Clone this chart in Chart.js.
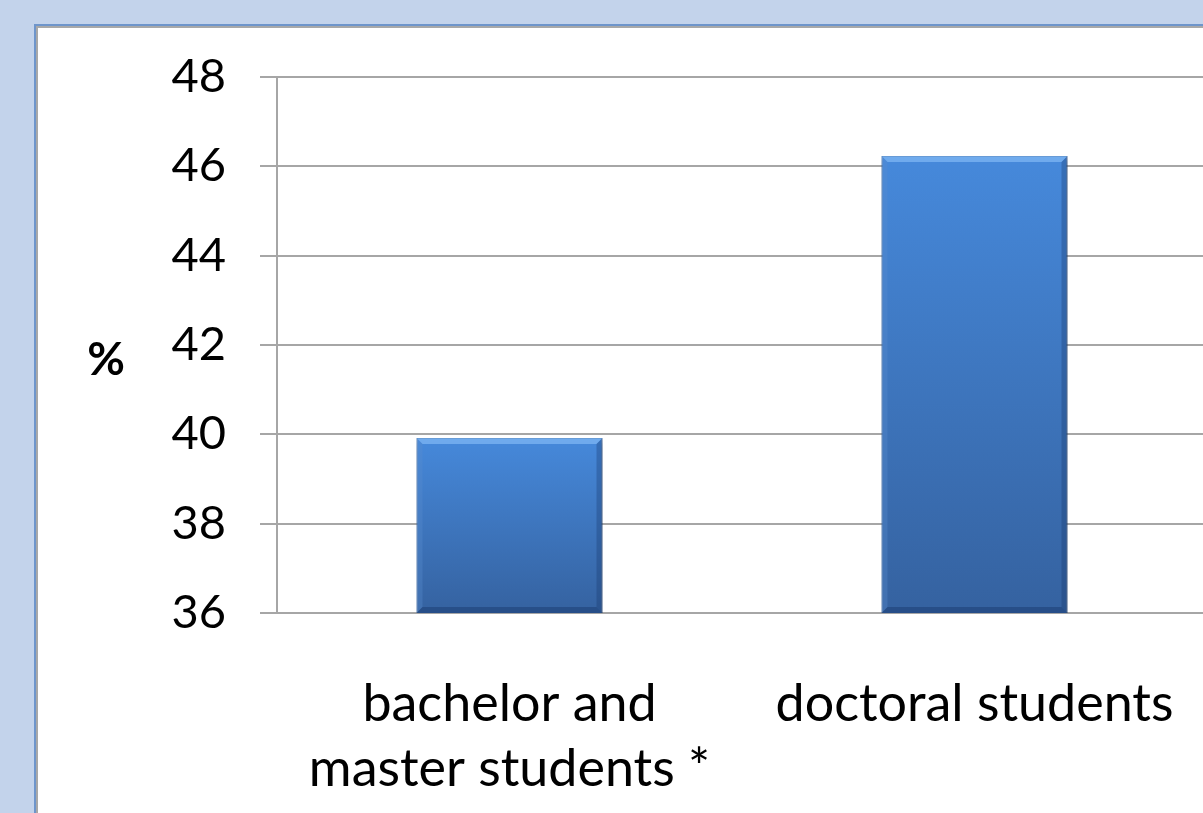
<!DOCTYPE html>
<html>
<head>
<meta charset="utf-8">
<script src="https://cdn.jsdelivr.net/npm/chart.js@4.4.0/dist/chart.umd.min.js"></script>
<style>
    html,body{margin:0;padding:0;overflow:hidden;background:#c3d3eb;width:1203px;height:813px}
    #panel{position:absolute;left:34px;top:24px;width:1300px;height:900px;background:#fff;
        border:2px solid #6e95cb;box-shadow:inset 2px 2px 0 #a8a8a8}
    #wrap{position:absolute;left:39px;top:26px}
</style>
</head>
<body>
<div id="panel"></div>
<div id="wrap"><canvas id="myChart" width="1190" height="787"></canvas></div>
<script>
var categories=[["bachelor and","master students *"],"doctoral students"]
var values=[39.92,46.23]
var yTitle="%"
var yMin=36, yMax=48, yStep=2

// horizontal "%" title at the left of the value axis
var yTitlePlugin={
    id:"yTitle",
    afterDraw:function(chart){
        var ctx=chart.ctx
        var area=chart.chartArea
        ctx.save()
        ctx.font="bold 46px Lato"
        ctx.fillStyle="#000"
        ctx.textAlign="center"
        ctx.textBaseline="middle"
        ctx.fillText(yTitle,67,(area.top+area.bottom)/2+15)
        ctx.restore()
    }
}

// soft shadow + bevel on the bars
var bevelPlugin={
    id:"bevel",
    beforeDatasetDraw:function(chart){
        var ctx=chart.ctx
        ctx.save()
        ctx.shadowColor="rgba(0,0,0,0.35)"
        ctx.shadowBlur=7
        ctx.shadowOffsetX=1
        ctx.shadowOffsetY=3
    },
    afterDatasetDraw:function(chart,args){
        var ctx=chart.ctx
        ctx.restore()
        var b=6
        args.meta.data.forEach(function(bar){
            var l=bar.x-bar.width/2, r=bar.x+bar.width/2, t=bar.y
            var bo=Math.min(bar.base,chart.chartArea.bottom)
            ctx.save()
            ctx.fillStyle="rgba(130,185,245,0.7)"
            ctx.beginPath()
            ctx.moveTo(l,t);ctx.lineTo(r,t);ctx.lineTo(r-b,t+b);ctx.lineTo(l+b,t+b);ctx.closePath();ctx.fill()
            ctx.fillStyle="rgba(90,140,205,0.35)"
            ctx.beginPath()
            ctx.moveTo(l,t);ctx.lineTo(l+b,t+b);ctx.lineTo(l+b,bo-b);ctx.lineTo(l,bo);ctx.closePath();ctx.fill()
            ctx.fillStyle="rgba(20,50,100,0.3)"
            ctx.beginPath()
            ctx.moveTo(r,t);ctx.lineTo(r-b,t+b);ctx.lineTo(r-b,bo-b);ctx.lineTo(r,bo);ctx.closePath();ctx.fill()
            ctx.fillStyle="rgba(20,50,100,0.4)"
            ctx.beginPath()
            ctx.moveTo(l,bo);ctx.lineTo(l+b,bo-b);ctx.lineTo(r-b,bo-b);ctx.lineTo(r,bo);ctx.closePath();ctx.fill()
            ctx.restore()
        })
    }
}

var myChart=document.getElementById("myChart").getContext('2d')

var chart=new Chart(myChart,{
    type:'bar',
    data:{
        labels:categories,
        datasets:[
            {
                data:values,
                backgroundColor:function(c){
                    var area=c.chart.chartArea
                    if(!area) return "#3f7fcf"
                    var top=c.chart.scales.y.getPixelForValue(c.raw)
                    var g=c.chart.ctx.createLinearGradient(0,top,0,area.bottom)
                    g.addColorStop(0,"#4689db")
                    g.addColorStop(1,"#3562a0")
                    return g
                },
                borderColor:"#2f5b96",
                borderWidth:1,
                borderSkipped:false,
                categoryPercentage:1,
                barPercentage:0.4
            }
        ]
    },
    plugins:[yTitlePlugin,bevelPlugin],
    options:{
        responsive:false,
        animation:false,
        layout:{padding:{left:0,right:22,top:51,bottom:0}},
        plugins:{legend:{display:false},tooltip:{enabled:false}},
        scales:{
            x:{
                grid:{display:false,drawTicks:false},
                border:{display:false},
                ticks:{
                    color:"#000",
                    font:{family:"Lato",size:52,lineHeight:1.25},
                    padding:59,
                    maxRotation:0,
                    autoSkip:false
                },
                afterFit:function(s){
                    s.height=200
                    s.paddingLeft=0
                    s.paddingRight=0
                }
            },
            y:{
                min:yMin,
                max:yMax,
                grid:{color:"#a6a6a6",lineWidth:2,tickLength:17},
                border:{color:"#a6a6a6",width:2},
                ticks:{
                    stepSize:yStep,
                    color:"#000",
                    font:{family:"Lato",size:47},
                    padding:34
                },
                afterFit:function(s){
                    s.width=238
                    s.paddingTop=0
                    s.paddingBottom=0
                }
            }
        }
    }
})
</script>
</body>
</html>
